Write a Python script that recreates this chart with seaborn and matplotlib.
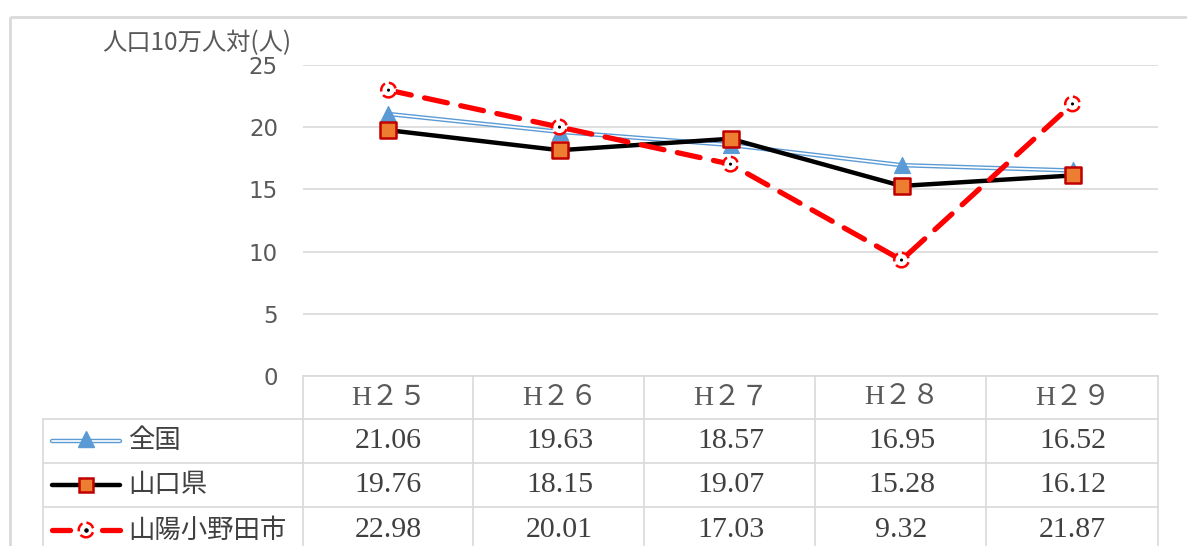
import matplotlib
matplotlib.use("Agg")
import matplotlib.pyplot as plt
import matplotlib.transforms as mtransforms
import seaborn as sns
import pandas as pd

# --- Daten ---
years = ["H２５", "H２６", "H２７", "H２８", "H２９"]
zenkoku = [21.06, 19.63, 18.57, 16.95, 16.52]
yamaguchi = [19.76, 18.15, 19.07, 15.28, 16.12]
sanyo_onoda = [22.98, 20.01, 17.03, 9.32, 21.87]
series_names = ["全国", "山口県", "山陽小野田市"]
y_ticks = [0, 5, 10, 15, 20, 25]
y_label = "人口10万人対(人)"

df = pd.DataFrame({"year": years, "全国": zenkoku, "山口県": yamaguchi, "山陽小野田市": sanyo_onoda})

sns.set_theme(style="white")
plt.rcParams['font.family'] = ['Noto Sans CJK JP', 'DejaVu Sans']

W, H = 1187, 546
fig = plt.figure(figsize=(W / 100, H / 100), dpi=100)
fig.patch.set_facecolor("white")

# Hintergrund-Achse in Pixelkoordinaten (Rahmen + Tabelle)
over = fig.add_axes([0, 0, 1, 1], zorder=0)
over.set_xlim(0, W)
over.set_ylim(H, 0)
over.axis("off")
over.patch.set_alpha(0)

# Plotbereich
left, right, top, bottom = 303, 1158, 65, 376
ax = fig.add_axes([left / W, 1 - bottom / H, (right - left) / W, (bottom - top) / H], zorder=1)
ax.patch.set_alpha(0)

BLUE = "#5B9BD5"
RED = "#FF0000"
ORANGE = "#ED7D31"
DARKRED = "#C00000"
GRID = "#D9D9D9"
TXT = "#404040"

# 全国: Doppellinie
sns.lineplot(data=df, x="year", y="全国", ax=ax, color=BLUE, lw=3.2, sort=False, zorder=3)
sns.lineplot(data=df, x="year", y="全国", ax=ax, color="white", lw=1.2, sort=False, zorder=3)
sns.scatterplot(data=df, x="year", y="全国", ax=ax, marker="^", s=130, color=BLUE, edgecolor=BLUE, zorder=4)

# 山口県
sns.lineplot(data=df, x="year", y="山口県", ax=ax, color="black", lw=3.2, sort=False, zorder=5)
sns.scatterplot(data=df, x="year", y="山口県", ax=ax, marker="s", s=120, color=ORANGE,
                edgecolor=DARKRED, linewidth=1.8, zorder=6)

# 山陽小野田市
sns.lineplot(data=df, x="year", y="山陽小野田市", ax=ax, color=RED, lw=3.8, sort=False, zorder=7)
ax.lines[-1].set_dashes([4.4, 2.6])
ax.lines[-1].set_dash_capstyle("round")
sns.scatterplot(data=df, x="year", y="山陽小野田市", ax=ax, marker="o", s=110, color="white",
                edgecolor=RED, linewidth=1.8, linestyle="--", zorder=8)
sns.scatterplot(data=df, x="year", y="山陽小野田市", ax=ax, marker="o", s=5, color="black",
                edgecolor="none", zorder=9)

ax.set_xlim(-0.5, len(years) - 0.5)
ax.set_ylim(0, 25)
ax.set_yticks(y_ticks)
ax.set_xticks([])
ax.set_xlabel("")
ax.set_ylabel("")
ax.grid(axis="y", color=GRID, lw=1.2)
ax.set_axisbelow(True)
for s in ax.spines.values():
    s.set_visible(False)
ax.tick_params(axis="y", length=0, pad=18, labelsize=16.5, labelcolor="#595959")
for t in ax.get_yticklabels():
    t.set_fontfamily(["DejaVu Sans"])

# y-Achsentitel
over.text(197, 43, y_label, ha="center", va="center", fontsize=17.5, color="#595959")

# Äußerer Rahmen
over.plot([10, W], [17, 17], color=GRID, lw=2, solid_capstyle="butt")
over.plot([10, 10], [17, H], color=GRID, lw=2, solid_capstyle="butt")

# --- Datentabelle ---
rows_y = [376, 419, 463, 507]
col_x = [303, 473, 644, 815, 986, 1158]
over.plot([303, 1158], [376, 376], color=GRID, lw=1.2)
for y in rows_y[1:]:
    over.plot([43, 1158], [y, y], color=GRID, lw=1.2)
over.plot([43, 43], [419, H], color=GRID, lw=1.2)
for x in col_x:
    over.plot([x, x], [376, H], color=GRID, lw=1.2)

blend = mtransforms.blended_transform_factory(ax.transData, over.transData)
serif = ["Liberation Serif", "Noto Sans CJK JP"]
for i, yr in enumerate(years):
    over.text(i, 398, yr, transform=blend, ha="center", va="center", fontsize=20,
              color="#595959", family=serif)

row_centers = [441, 485, 530]
for vals, yc in zip([zenkoku, yamaguchi, sanyo_onoda], row_centers):
    for i, v in enumerate(vals):
        over.text(i, yc, f"{v:.2f}", transform=blend, ha="center", va="center",
                  fontsize=21.5, color=TXT, family=serif)

# Legendenschlüssel in der Tabelle
yc = row_centers
over.plot([52, 120], [yc[0], yc[0]], color=BLUE, lw=3.2, solid_capstyle="round")
over.plot([52, 120], [yc[0], yc[0]], color="white", lw=1.2, solid_capstyle="round")
over.plot([86], [yc[0] - 2], marker="^", ms=11, color=BLUE)

over.plot([52, 120], [yc[1], yc[1]], color="black", lw=3.2, solid_capstyle="round")
over.plot([86], [yc[1]], marker="s", ms=10, color=ORANGE, mec=DARKRED, mew=1.8)

over.plot([52, 70], [yc[2], yc[2]], color=RED, lw=3.8, solid_capstyle="round")
over.plot([102, 120], [yc[2], yc[2]], color=RED, lw=3.8, solid_capstyle="round")
over.scatter([86], [yc[2]], s=110, color="white", edgecolor=RED, linewidth=1.8, linestyle="--", zorder=5)
over.scatter([86], [yc[2]], s=5, color="black", zorder=6)

for name, y in zip(series_names, yc):
    over.text(128, y, name, ha="left", va="center", fontsize=19, color=TXT)

fig.savefig("out.png", dpi=100)
